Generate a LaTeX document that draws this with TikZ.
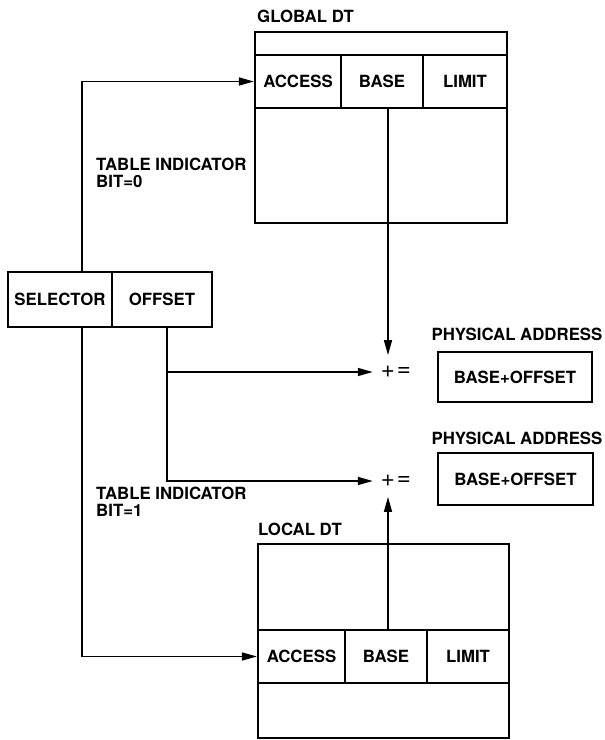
\documentclass[tikz,border=0pt]{standalone}
\usepackage{fontspec}
\setmainfont{TeX Gyre Heros}
\usetikzlibrary{arrows.meta}

\begin{document}
\begin{tikzpicture}[x=1pt, y=-1pt,
  every node/.style={inner sep=0pt, font=\fontsize{16.8}{17}\selectfont\bfseries},
  dtable/.style={draw, line width=2.8pt},
  dcell/.style={draw, line width=2.2pt, minimum height=53pt},
  regbox/.style={draw, line width=2pt, minimum height=55pt},
  physbox/.style={draw, line width=2.4pt},
  sign/.style={font=\fontsize{24}{24}\selectfont},
  wire/.style={line width=1.5pt, -{Triangle[length=15pt,width=8pt]}}]
  \useasboundingbox (0,0) rectangle (605,740);

  % global descriptor table
  \node[anchor=west] (gname) at (257,16) {GLOBAL DT};
  \node[dtable, minimum width=252pt, minimum height=191pt] (gdt) at (381,127.5) {};
  \node[dcell, minimum width=86pt] (gacc) at (298,81.5) {ACCESS};
  \node[dcell, minimum width=82pt] (gbase) at (382,81.5) {BASE};
  \node[dcell, minimum width=84pt] (glim) at (465,81.5) {LIMIT};

  % local descriptor table
  \node[anchor=west] (lname) at (258,529) {LOCAL DT};
  \node[dtable, minimum width=251pt, minimum height=194pt] (ldt) at (383.5,641) {};
  \node[dcell, minimum width=87pt] (lacc) at (301.5,656.5) {ACCESS};
  \node[dcell, minimum width=82pt] (lbase) at (386,656.5) {BASE};
  \node[dcell, minimum width=82pt] (llim) at (468,656.5) {LIMIT};

  % selector register
  \node[regbox, minimum width=104pt] (sel) at (60,299.5) {SELECTOR};
  \node[regbox, minimum width=100pt] (off) at (162,299.5) {OFFSET};

  \node[anchor=north west, align=left] (bit0) at (96,158) {TABLE INDICATOR\\BIT=0};
  \node[anchor=north west, align=left] (bit1) at (96,487) {TABLE INDICATOR\\BIT=1};

  % adders
  \node[sign] (plus1) at (388,372) {+};
  \node[sign] (eq1) at (404,372) {=};
  \node[sign] (plus2) at (388,481) {+};
  \node[sign] (eq2) at (404,481) {=};

  % physical addresses
  \node (pname1) at (517,334) {PHYSICAL ADDRESS};
  \node[physbox, minimum width=154pt, minimum height=50pt] (phys1) at (515,377) {BASE+OFFSET};
  \node (pname2) at (517,438) {PHYSICAL ADDRESS};
  \node[physbox, minimum width=155pt, minimum height=52pt] (phys2) at (515.5,479) {BASE+OFFSET};

  \draw[wire] ([xshift=22pt]sel.north) |- (gacc.west);
  \draw[wire] ([xshift=22pt]sel.south) |- (lacc.west);
  \draw[wire, shorten >=8pt] ([xshift=5pt]off.south) |- (plus1.west);
  \draw[wire, shorten >=8pt] ([xshift=5pt]off.south) |- (plus2.west);
  \draw[wire, shorten >=11pt] (gbase.south -| plus1) -- (plus1.north);
  \draw[wire, shorten >=10pt] (lbase.north -| plus2) -- (plus2.south);
\end{tikzpicture}
\end{document}
